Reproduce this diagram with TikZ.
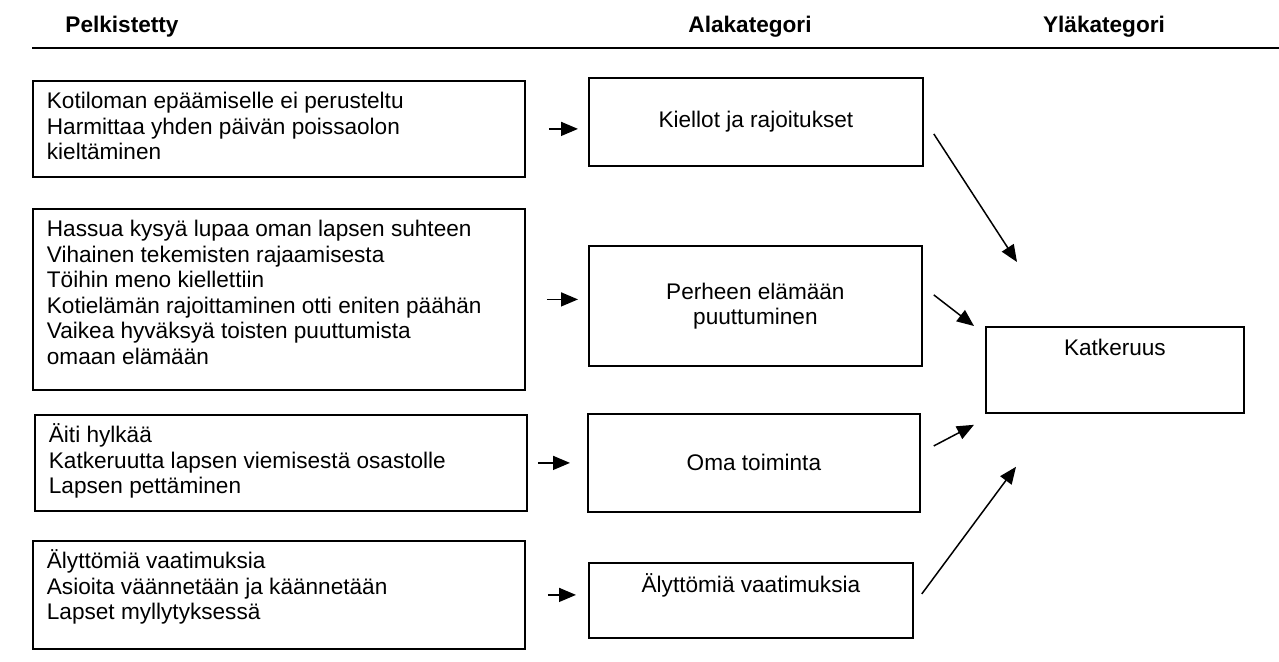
\documentclass[tikz,border=0pt]{standalone}
\usepackage{fontspec}
\setmainfont{Liberation Sans}
\usetikzlibrary{arrows.meta}

\newcommand{\pelkbox}[2]{\parbox[t][#1][t]{232pt}{\raggedright\rule{0pt}{10.5pt}#2}}

\tikzset{
  teksti/.style={font=\fontsize{11.3}{12.75}\selectfont},
  otsikko/.style={font=\fontsize{11.3}{12.75}\selectfont\bfseries},
  pelk/.style={teksti, draw, line width=0.9pt, anchor=north west, inner xsep=7pt, inner ysep=3.5pt},
  ala/.style={teksti, draw, line width=0.9pt, anchor=north west, align=center, inner sep=0pt},
  nuoli/.style={line width=0.75pt, -{Triangle[length=8.5pt,width=7pt]}}
}

\begin{document}
\begin{tikzpicture}[x=0.5pt,y=-0.5pt]
  \useasboundingbox (0,0) rectangle (1279,661);
  % otsikot
  \node[otsikko] (hp) at (122,27) {Pelkistetty};
  \node[otsikko] (ha) at (750,27) {Alakategori};
  \node[otsikko] (hy) at (1104,27) {Yläkategori};
  \draw[line width=1pt] (32,48) -- (1279,48);
  % pelkistetyt ilmaukset
  \node[pelk] (p1) at (32,80) {\pelkbox{41pt}{Kotiloman epäämiselle ei perusteltu\\
    Harmittaa yhden päivän poissaolon\\kieltäminen}};
  \node[pelk] (p2) at (32,208) {\pelkbox{83.5pt}{Hassua kysyä lupaa oman lapsen suhteen\\
    Vihainen tekemisten rajaamisesta\\Töihin meno kiellettiin\\
    Kotielämän rajoittaminen otti eniten päähän\\
    Vaikea hyväksyä toisten puuttumista\\omaan elämään}};
  \node[pelk] (p3) at (34,414) {\pelkbox{41pt}{Äiti hylkää\\
    Katkeruutta lapsen viemisestä osastolle\\Lapsen pettäminen}};
  \node[pelk] (p4) at (32,540) {\pelkbox{47pt}{Älyttömiä vaatimuksia\\
    Asioita väännetään ja käännetään\\Lapset myllytyksessä}};
  % alakategoriat
  \node[ala, minimum width=167pt, minimum height=44pt] (k1) at (588,77) {Kiellot ja rajoitukset};
  \node[ala, minimum width=166.5pt, minimum height=60pt] (k2) at (588,245) {Perheen elämään\\puuttuminen};
  \node[ala, minimum width=166pt, minimum height=49pt] (k3) at (587,413) {Oma toiminta};
  \node[ala, minimum width=162pt, text height=10.5pt, text depth=18pt, inner ysep=4.5pt] (k4) at (588,562) {Älyttömiä vaatimuksia};
  % yläkategoria
  \node[ala, minimum width=129pt, text height=10.5pt, text depth=24.5pt, inner ysep=4pt] (yk) at (985,326) {Katkeruus};
  % nuolet
  \draw[nuoli, shorten <=11.5pt, shorten >=5pt] (p1.east) -- (p1.east -| k1.west);
  \draw[nuoli, shorten <=10.5pt, shorten >=5pt] (p2.east) -- (p2.east -| k2.west);
  \draw[nuoli, shorten <=5pt, shorten >=8.5pt] (p3.east) -- (p3.east -| k3.west);
  \draw[nuoli, shorten <=11pt, shorten >=6pt] (p4.east) -- (p4.east -| k4.west);
  \coordinate (a1) at ([shift={(10,12)}]k1.east);
  \coordinate (b1) at ([shift={(32,-64)}]yk.north west);
  \coordinate (a2) at ([shift={(11,-11)}]k2.east);
  \coordinate (b2) at ([shift={(-11,0)}]yk.north west);
  \coordinate (a3) at ([shift={(13,-17)}]k3.east);
  \coordinate (b3) at ([shift={(-11,11)}]yk.south west);
  \coordinate (a4) at ([shift={(8,-6.5)}]k4.east);
  \coordinate (b4) at ([shift={(31,53)}]yk.south west);
  \draw[nuoli] (a1) -- (b1);
  \draw[nuoli] (a2) -- (b2);
  \draw[nuoli] (a3) -- (b3);
  \draw[nuoli] (a4) -- (b4);
\end{tikzpicture}
\end{document}
